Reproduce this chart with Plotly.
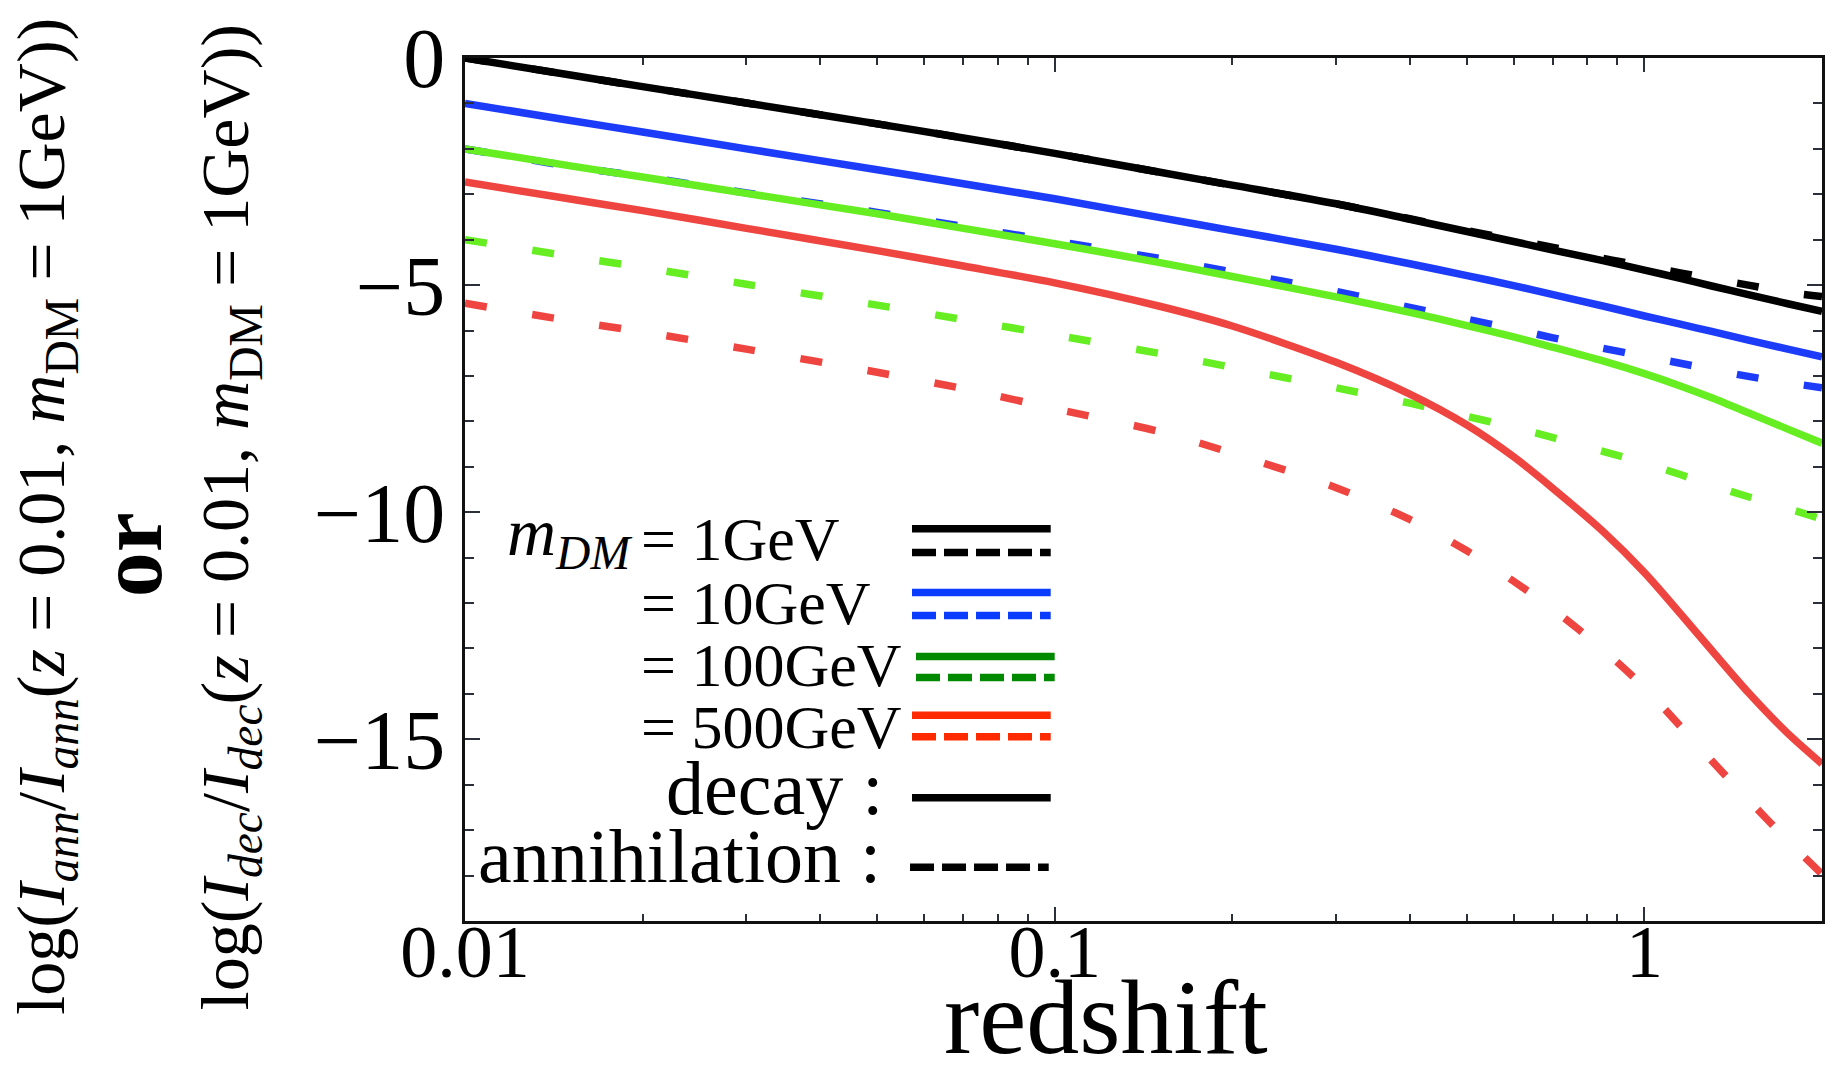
import math
import plotly.graph_objects as go

# ---------------- data ----------------
redshift = [0.01, 0.015, 0.02, 0.03, 0.05, 0.07, 0.1, 0.15, 0.2, 0.3, 0.4,
            0.5, 0.6, 0.7, 0.85, 1.0, 1.15, 1.3, 1.5, 1.75, 2.0]

decay_1GeV = [0.00, -0.37, -0.63, -0.99, -1.45, -1.76, -2.10, -2.51, -2.80, -3.21, -3.55,
              -3.82, -4.04, -4.23, -4.46, -4.67, -4.85, -5.02, -5.21, -5.41, -5.58]
ann_1GeV = [0.00, -0.37, -0.63, -0.99, -1.45, -1.76, -2.10, -2.51, -2.80, -3.21, -3.54,
            -3.80, -4.00, -4.17, -4.41, -4.58, -4.73, -4.86, -5.00, -5.16, -5.25]
decay_10GeV = [-1.00, -1.37, -1.63, -2.00, -2.46, -2.77, -3.10, -3.51, -3.80, -4.21, -4.53,
               -4.79, -5.01, -5.21, -5.46, -5.68, -5.86, -6.02, -6.21, -6.41, -6.58]
ann_10GeV = [-2.00, -2.38, -2.61, -2.97, -3.40, -3.71, -4.03, -4.41, -4.71, -5.14, -5.49,
             -5.75, -5.97, -6.16, -6.39, -6.57, -6.72, -6.86, -7.01, -7.15, -7.26]
decay_100GeV = [-2.00, -2.37, -2.62, -2.98, -3.43, -3.75, -4.09, -4.50, -4.81, -5.26, -5.60,
                -5.89, -6.14, -6.37, -6.67, -6.95, -7.22, -7.48, -7.81, -8.17, -8.48]
ann_100GeV = [-4.00, -4.36, -4.61, -4.98, -5.44, -5.76, -6.10, -6.50, -6.81, -7.26, -7.60,
              -7.89, -8.13, -8.36, -8.66, -8.92, -9.17, -9.41, -9.66, -9.92, -10.15]
decay_500GeV = [-2.73, -3.10, -3.36, -3.75, -4.24, -4.58, -4.95, -5.46, -5.90, -6.70, -7.40,
                -8.08, -8.78, -9.48, -10.42, -11.33, -12.23, -13.04, -13.97, -14.87, -15.54]
ann_500GeV = [-5.40, -5.78, -6.03, -6.41, -6.92, -7.28, -7.72, -8.22, -8.70, -9.46, -10.16,
              -10.85, -11.52, -12.14, -13.02, -13.86, -14.71, -15.47, -16.33, -17.23, -17.97]

x_tick_vals = [0.01, 0.1, 1]
x_tick_text = ["0.01", "0.1", "1"]
y_tick_vals = [0, -5, -10, -15]
y_tick_text = ["0", "\u22125", "\u221210", "\u221215"]

mass_labels = ["= 1GeV", "= 10GeV", "= 100GeV", "= 500GeV"]
kind_labels = ["decay :", "annihilation :"]

# ---------------- styling ----------------
FONT = "Liberation Serif, Times New Roman, serif"
C_BLACK = "#000000"
C_BLUE = "#1c3cfa"
C_GREEN = "#66ee22"
C_RED = "#ef4540"
L_BLUE = "#0a3cff"
L_GREEN = "#008a00"
L_RED = "#ff2a00"

W, H = 1837, 1078
ML, MR, MT, MB = 465, 12, 50, 157
PW, PH = W - ML - MR, H - MT - MB


def px(xp):
    return (xp - ML) / PW


def py(yp):
    return (H - MB - yp) / PH


fig = go.Figure()

series = [
    (ann_1GeV, C_BLACK, True),
    (ann_10GeV, C_BLUE, True),
    (ann_100GeV, C_GREEN, True),
    (ann_500GeV, C_RED, True),
    (decay_1GeV, C_BLACK, False),
    (decay_10GeV, C_BLUE, False),
    (decay_100GeV, C_GREEN, False),
    (decay_500GeV, C_RED, False),
]
for vals, col, dashed in series:
    fig.add_trace(go.Scatter(
        x=redshift, y=vals, mode="lines", hoverinfo="skip",
        line=dict(color=col, width=7.5, dash="22px,46px" if dashed else "solid",
                  shape="spline", smoothing=0.8),
    ))

tick_col = "#2a2f3a"
minor_x = [k * 10.0 ** e for e in (-2, -1) for k in range(2, 10)]

fig.update_layout(
    width=W, height=H,
    margin=dict(l=ML, r=MR, t=MT, b=MB, pad=0),
    paper_bgcolor="white", plot_bgcolor="white", showlegend=False,
    font=dict(family=FONT, color="black"),
    xaxis=dict(
        type="log", range=[-2, math.log10(2.0)],
        tickmode="array", tickvals=x_tick_vals, ticktext=x_tick_text,
        ticks="inside", ticklen=14, tickwidth=2, tickcolor=tick_col,
        ticklabelstandoff=-36,
        showline=True, linewidth=3, linecolor="#111111", mirror="ticks",
        showgrid=False, zeroline=False, tickfont=dict(size=74, family=FONT),
        minor=dict(tickmode="array", tickvals=minor_x, ticks="inside", ticklen=7,
                   tickwidth=1.5, tickcolor=tick_col, showgrid=False),
    ),
    yaxis=dict(
        range=[-19, 0],
        tickmode="array", tickvals=y_tick_vals, ticktext=y_tick_text,
        ticks="inside", ticklen=15, tickwidth=2, tickcolor=tick_col,
        showline=True, linewidth=3, linecolor="#111111", mirror="ticks",
        showgrid=False, zeroline=False, tickfont=dict(size=84, family=FONT),
        minor=dict(dtick=1, tick0=0, ticks="inside", ticklen=9,
                   tickwidth=1.5, tickcolor=tick_col, showgrid=False),
    ),
)

ann = []
# axis titles
ylab1 = ("log(<i>I</i><sub><i>ann</i></sub>/<i>I</i><sub><i>ann</i></sub>"
         "(<i>z</i> = 0.01, <i>m</i><sub>DM</sub> = 1GeV))")
ylab2 = ("log(<i>I</i><sub><i>dec</i></sub>/<i>I</i><sub><i>dec</i></sub>"
         "(<i>z</i> = 0.01, <i>m</i><sub>DM</sub> = 1GeV))")
ann.append(dict(text=ylab1, x=px(45), y=py(512), textangle=-90, font=dict(size=68)))
ann.append(dict(text="<b>or</b>", x=px(130), y=py(551), textangle=-90, font=dict(size=90)))
ann.append(dict(text=ylab2, x=px(229), y=py(514), textangle=-90, font=dict(size=68)))
ann.append(dict(text="redshift", x=px(1107), y=py(1018), font=dict(size=106)))

# custom legend text
ann.append(dict(text="<i>m</i><sub><i>DM</i></sub>", x=px(634), y=py(533),
                xanchor="right", font=dict(size=68)))
for lab, yc in zip(mass_labels, [535, 600, 663, 725]):
    ann.append(dict(text=lab, x=px(639), y=py(yc), xanchor="left", font=dict(size=62)))
for lab, xr, yc in zip(kind_labels, [886, 884], [787, 855]):
    ann.append(dict(text=lab, x=px(xr), y=py(yc), xanchor="right", font=dict(size=76)))

for a in ann:
    a.setdefault("xanchor", "center")
    a.setdefault("yanchor", "middle")
    a.update(xref="paper", yref="paper", showarrow=False)
    a["font"].update(family=FONT, color="black")
fig.update_layout(annotations=ann)

# custom legend line samples
legend_rows = [
    (525, 913, 1052, C_BLACK, False), (549, 913, 1052, C_BLACK, True),
    (589.5, 913, 1052, L_BLUE, False), (612.7, 913, 1052, L_BLUE, True),
    (654, 917, 1056, L_GREEN, False), (675.3, 917, 1056, L_GREEN, True),
    (713.3, 913, 1052, L_RED, False), (735, 913, 1052, L_RED, True),
    (796.7, 913, 1052, C_BLACK, False), (866.7, 911, 1050, C_BLACK, True),
]
shapes = []
for yy, x0, x1, col, dashed in legend_rows:
    shapes.append(dict(type="line", xref="paper", yref="paper",
                       x0=px(x0), x1=px(x1), y0=py(yy), y1=py(yy),
                       line=dict(color=col, width=7.5,
                                 dash="24px,8px" if dashed else "solid")))
fig.update_layout(shapes=shapes)

fig.write_html("out.html", config={"displayModeBar": False},
               post_script="document.body.style.margin='0px';document.body.style.overflow='hidden';")
